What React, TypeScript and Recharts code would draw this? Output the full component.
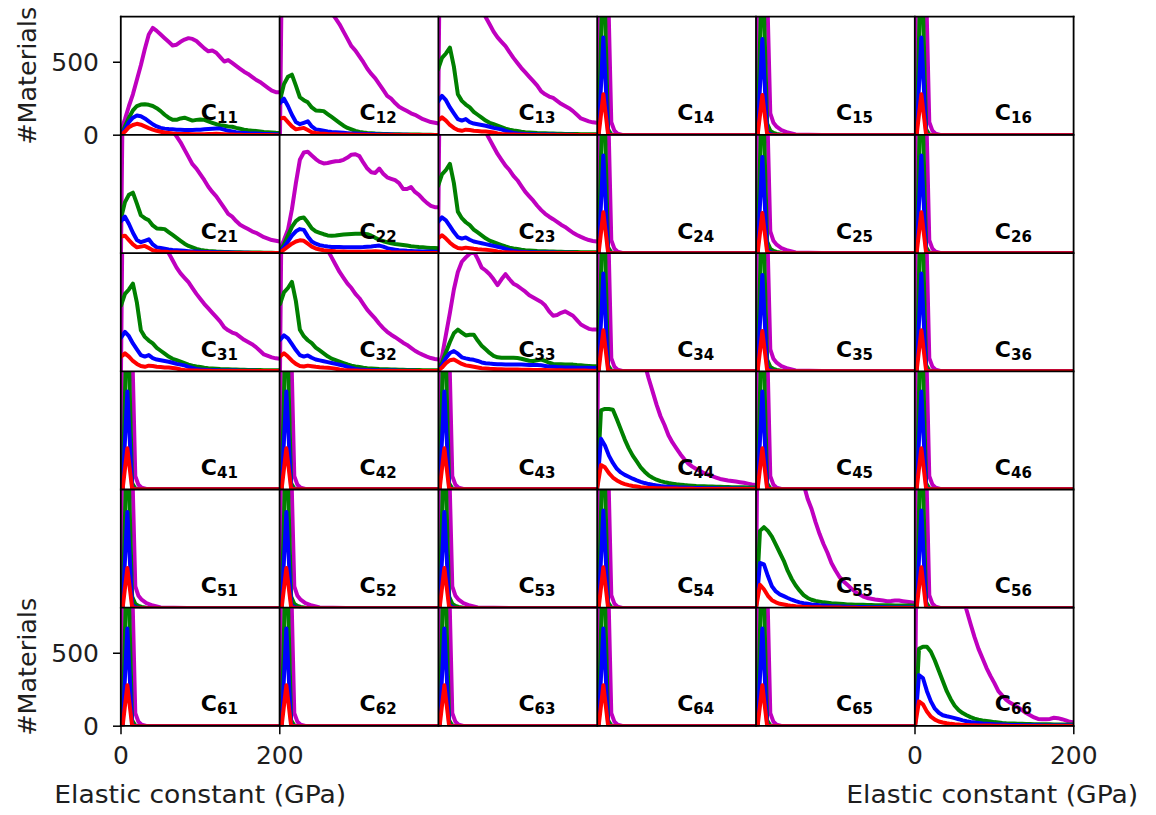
import React from 'react';
import { LineChart, Line, XAxis, YAxis } from 'recharts';

// ---------- data ----------
const X = [0, 5, 10, 15, 20, 25, 30, 35, 40, 45, 50, 55, 60, 65, 70, 75, 80, 85, 90, 95, 100, 105, 110, 115, 120, 125, 130, 135, 140, 145, 150, 155, 160, 165, 170, 175, 180, 185, 190, 195, 200];
const X_SPIKE = [0, 2, 8, 14, 18, 22, 26, 32, 40, 50, 100, 150, 200];
const X_TICKS = [0, 200];
const Y_TICKS = [0, 500];
const Y_MAX = 810;

// C11
const c11Red = [0, 25, 55, 70, 78, 72, 60, 48, 38, 30, 24, 18, 15, 12, 10, 9, 8, 8, 7, 7, 7, 7, 8, 9, 10, 9, 7, 5, 4, 3, 3, 2, 2, 2, 1, 1, 1, 1, 1, 0, 0];
const c11Blue = [0, 40, 90, 120, 135, 130, 115, 95, 75, 60, 50, 45, 42, 40, 38, 37, 36, 36, 36, 37, 38, 40, 42, 44, 46, 45, 38, 30, 25, 20, 17, 15, 13, 12, 11, 10, 9, 8, 7, 6, 5];
const c11Green = [0, 60, 120, 170, 200, 210, 212, 208, 200, 185, 165, 140, 120, 105, 105, 115, 120, 110, 100, 105, 108, 105, 95, 85, 75, 68, 64, 60, 58, 50, 44, 38, 34, 31, 28, 25, 22, 20, 18, 16, 15];
const c11Magenta = [30, 110, 200, 280, 380, 480, 590, 690, 735, 715, 690, 665, 640, 615, 620, 640, 655, 665, 660, 645, 620, 595, 575, 580, 565, 535, 505, 515, 495, 475, 455, 435, 420, 400, 380, 365, 345, 325, 305, 295, 295];

// C12 (= C21)
const c12Red = [115, 120, 90, 60, 40, 45, 50, 35, 20, 15, 12, 10, 8, 7, 6, 5, 5, 4, 4, 3, 3, 3, 3, 2, 2, 2, 2, 2, 2, 2, 1, 1, 1, 1, 1, 1, 1, 1, 1, 1, 1];
const c12Blue = [220, 250, 200, 140, 90, 75, 85, 95, 60, 40, 35, 30, 25, 22, 20, 18, 16, 14, 12, 11, 10, 9, 8, 7, 6, 5, 5, 4, 4, 3, 3, 3, 3, 2, 2, 2, 2, 2, 1, 1, 1];
const c12Green = [240, 350, 400, 415, 340, 260, 240, 225, 190, 170, 168, 165, 145, 125, 105, 85, 65, 50, 40, 30, 22, 18, 15, 13, 11, 10, 9, 8, 7, 6, 6, 5, 5, 4, 4, 4, 3, 3, 3, 2, 2];
const c12Magenta = [0, 2500, 2200, 2000, 1800, 1600, 1450, 1300, 1200, 1100, 1020, 950, 890, 840, 800, 760, 710, 660, 610, 580, 540, 500, 455, 420, 390, 350, 310, 270, 250, 220, 195, 180, 165, 150, 140, 125, 110, 100, 90, 85, 80];

// C13 (= C31)
const c13Red = [100, 122, 100, 70, 50, 35, 30, 38, 35, 30, 28, 26, 25, 22, 18, 12, 9, 7, 5, 4, 3, 3, 3, 2, 2, 2, 2, 2, 2, 1, 1, 1, 1, 1, 1, 1, 1, 1, 1, 1, 1];
const c13Blue = [230, 270, 240, 190, 150, 110, 100, 110, 90, 80, 75, 70, 65, 58, 50, 45, 40, 30, 22, 16, 12, 10, 8, 7, 6, 5, 5, 4, 4, 4, 3, 3, 3, 3, 3, 2, 2, 2, 2, 2, 2];
const c13Green = [450, 530, 560, 600, 470, 280, 235, 210, 190, 160, 140, 120, 100, 85, 75, 65, 55, 45, 38, 32, 28, 24, 21, 19, 17, 15, 14, 13, 12, 11, 10, 10, 9, 9, 8, 8, 7, 7, 6, 6, 6];
const c13Magenta = [0, 2800, 2400, 2100, 1850, 1600, 1400, 1250, 1100, 1000, 920, 860, 810, 760, 710, 670, 640, 610, 570, 530, 495, 460, 430, 400, 370, 340, 300, 280, 265, 255, 235, 215, 200, 185, 165, 140, 115, 105, 95, 88, 85];

// C23 (= C32)
const c23Red = [100, 123, 100, 72, 50, 36, 32, 38, 34, 30, 27, 25, 24, 21, 17, 12, 9, 7, 5, 4, 3, 3, 3, 2, 2, 2, 2, 2, 2, 1, 1, 1, 1, 1, 1, 1, 1, 1, 1, 1, 1];
const c23Blue = [215, 245, 225, 185, 145, 110, 100, 108, 92, 80, 74, 68, 62, 56, 50, 44, 38, 30, 22, 16, 12, 10, 8, 7, 6, 5, 5, 4, 4, 4, 3, 3, 3, 3, 3, 2, 2, 2, 2, 2, 2];
const c23Green = [460, 540, 570, 612, 480, 285, 240, 212, 192, 162, 142, 122, 102, 86, 76, 66, 56, 46, 38, 32, 28, 24, 21, 19, 17, 15, 14, 13, 12, 11, 10, 10, 9, 9, 8, 8, 7, 7, 6, 6, 6];
const c23Magenta = [0, 2800, 2400, 2100, 1850, 1600, 1400, 1250, 1100, 1000, 930, 870, 830, 780, 730, 680, 640, 600, 570, 530, 500, 460, 420, 390, 360, 325, 295, 270, 250, 233, 215, 195, 180, 160, 140, 125, 112, 100, 90, 84, 80];

// C22
const c22Red = [5, 25, 45, 65, 80, 88, 85, 65, 45, 32, 25, 20, 17, 15, 13, 12, 11, 10, 10, 10, 10, 10, 11, 12, 13, 12, 10, 8, 6, 5, 4, 4, 3, 3, 3, 2, 2, 2, 2, 1, 1];
const c22Blue = [10, 40, 80, 120, 150, 165, 160, 115, 80, 65, 55, 50, 46, 43, 42, 42, 41, 40, 40, 40, 41, 42, 44, 46, 50, 52, 45, 35, 28, 24, 20, 18, 16, 15, 14, 13, 12, 12, 11, 10, 10];
const c22Green = [15, 60, 120, 180, 220, 240, 245, 210, 170, 150, 140, 130, 122, 120, 122, 125, 128, 130, 132, 133, 134, 133, 130, 120, 105, 92, 82, 75, 68, 63, 60, 56, 52, 48, 45, 42, 40, 38, 36, 35, 34];
const c22Magenta = [30, 90, 160, 300, 480, 640, 690, 695, 670, 645, 625, 615, 618, 625, 630, 632, 640, 655, 675, 678, 665, 620, 580, 555, 550, 580, 545, 520, 510, 500, 480, 440, 440, 453, 420, 400, 370, 345, 325, 315, 315];

// C33
const c33Red = [2, 25, 55, 75, 80, 65, 50, 40, 35, 30, 25, 20, 18, 16, 15, 14, 13, 12, 12, 11, 11, 10, 10, 10, 9, 9, 8, 8, 7, 7, 6, 6, 5, 5, 5, 4, 4, 4, 3, 3, 3];
const c33Blue = [5, 40, 90, 125, 138, 120, 95, 88, 82, 78, 70, 60, 55, 52, 50, 48, 47, 46, 46, 45, 45, 45, 44, 43, 42, 42, 40, 36, 32, 30, 28, 27, 26, 25, 25, 24, 24, 23, 23, 22, 22];
const c33Green = [15, 60, 130, 200, 260, 285, 265, 245, 250, 250, 210, 175, 150, 125, 105, 95, 92, 92, 92, 92, 90, 85, 78, 72, 70, 75, 80, 70, 58, 50, 48, 47, 46, 45, 45, 42, 40, 38, 36, 34, 33];
const c33Magenta = [30, 100, 250, 400, 560, 680, 750, 780, 805, 820, 770, 710, 690, 665, 630, 590, 630, 665, 630, 600, 585, 565, 545, 520, 505, 490, 475, 450, 410, 380, 385, 400, 410, 395, 380, 350, 320, 305, 290, 285, 285];

// C44
const c44Red = [0, 165, 150, 110, 80, 60, 45, 35, 28, 22, 18, 14, 11, 9, 8, 7, 6, 5, 5, 4, 4, 3, 3, 3, 3, 2, 2, 2, 2, 2, 2, 1, 1, 1, 1, 1, 1, 1, 1, 1, 1];
const c44Blue = [0, 345, 300, 230, 180, 140, 115, 98, 85, 72, 60, 50, 42, 35, 30, 26, 22, 19, 17, 15, 13, 12, 11, 10, 9, 8, 8, 7, 7, 6, 6, 5, 5, 5, 4, 4, 4, 3, 3, 3, 3];
const c44Green = [0, 540, 550, 550, 545, 480, 410, 340, 280, 230, 190, 150, 120, 95, 78, 65, 55, 48, 42, 38, 34, 31, 28, 26, 24, 22, 21, 20, 19, 18, 17, 16, 15, 15, 14, 14, 13, 13, 12, 12, 12];
const c44Magenta = [0, 3500, 3400, 3200, 2900, 2600, 2300, 2000, 1700, 1450, 1200, 1000, 860, 760, 670, 580, 500, 440, 370, 320, 280, 240, 205, 175, 155, 138, 125, 110, 100, 90, 80, 70, 65, 60, 56, 52, 48, 44, 38, 32, 28];

// C55
const c55Red = [0, 160, 130, 85, 55, 40, 30, 25, 20, 16, 13, 11, 9, 8, 7, 6, 6, 5, 5, 4, 4, 4, 3, 3, 3, 3, 2, 2, 2, 2, 2, 2, 2, 1, 1, 1, 1, 1, 1, 1, 1];
const c55Blue = [0, 310, 300, 220, 150, 115, 95, 83, 70, 58, 48, 40, 34, 30, 26, 23, 20, 18, 16, 14, 13, 12, 11, 10, 9, 9, 8, 8, 7, 7, 6, 6, 6, 5, 5, 5, 5, 4, 4, 4, 4];
const c55Green = [0, 530, 555, 530, 490, 435, 380, 325, 255, 200, 155, 120, 90, 70, 58, 50, 45, 40, 37, 34, 32, 30, 28, 26, 25, 24, 24, 23, 22, 22, 21, 21, 20, 20, 20, 19, 19, 18, 18, 18, 17];
const c55Magenta = [0, 3500, 3300, 3000, 2700, 2400, 2100, 1800, 1550, 1350, 1200, 1000, 850, 750, 680, 590, 510, 440, 380, 310, 260, 215, 185, 160, 135, 112, 95, 80, 70, 65, 60, 56, 52, 48, 50, 53, 52, 48, 44, 40, 36];

// C66
const c66Red = [0, 170, 150, 100, 65, 45, 32, 25, 20, 16, 13, 11, 9, 8, 7, 6, 5, 5, 4, 4, 3, 3, 3, 3, 2, 2, 2, 2, 2, 2, 2, 1, 1, 1, 1, 1, 1, 1, 1, 1, 1];
const c66Blue = [0, 350, 330, 240, 170, 120, 92, 75, 68, 62, 55, 48, 40, 34, 29, 25, 22, 19, 17, 15, 13, 12, 11, 10, 9, 8, 8, 7, 7, 6, 6, 6, 5, 5, 5, 5, 4, 4, 4, 4, 4];
const c66Green = [0, 530, 545, 545, 510, 450, 380, 310, 240, 185, 140, 110, 90, 75, 62, 52, 45, 40, 36, 32, 28, 25, 22, 20, 19, 18, 17, 16, 15, 15, 14, 14, 13, 13, 13, 12, 12, 12, 12, 12, 12];
const c66Magenta = [0, 3500, 3300, 3000, 2700, 2400, 2100, 1800, 1550, 1300, 1150, 1000, 900, 795, 700, 610, 530, 465, 400, 345, 295, 240, 210, 180, 160, 145, 128, 110, 90, 75, 60, 50, 48, 48, 50, 58, 55, 48, 40, 30, 25];

// off-diagonal spikes near 0 GPa (short tail), sampled on X_SPIKE
const spikeRed = [0, 0, 280, 3, 0, 0, 0, 0, 0, 0, 0, 0, 0];
const spikeBlue = [0, 0, 670, 10, 0, 0, 0, 0, 0, 0, 0, 0, 0];
const spikeGreen = [0, 0, 1300, 40, 5, 0, 0, 0, 0, 0, 0, 0, 0];
const spikeMagenta = [0, 1500, 6000, 1000, 90, 30, 10, 2, 0, 0, 0, 0, 0];

// off-diagonal spikes with a longer tail, sampled on X_SPIKE
const spikeLRed = [0, 0, 275, 8, 2, 0, 0, 0, 0, 0, 0, 0, 0];
const spikeLBlue = [0, 0, 660, 25, 6, 1, 0, 0, 0, 0, 0, 0, 0];
const spikeLGreen = [0, 0, 1250, 80, 30, 15, 8, 3, 0, 0, 0, 0, 0];
const spikeLMagenta = [0, 1500, 6000, 1000, 150, 85, 58, 35, 18, 5, 0, 0, 0];

const SUBSCRIPTS = [
  ['11', '12', '13', '14', '15', '16'],
  ['21', '22', '23', '24', '25', '26'],
  ['31', '32', '33', '34', '35', '36'],
  ['41', '42', '43', '44', '45', '46'],
  ['51', '52', '53', '54', '55', '56'],
  ['61', '62', '63', '64', '65', '66'],
];

type Series = { x: number[]; r: number[]; b: number[]; g: number[]; m: number[] };
const c11: Series = { x: X, r: c11Red, b: c11Blue, g: c11Green, m: c11Magenta };
const c12: Series = { x: X, r: c12Red, b: c12Blue, g: c12Green, m: c12Magenta };
const c13: Series = { x: X, r: c13Red, b: c13Blue, g: c13Green, m: c13Magenta };
const c22: Series = { x: X, r: c22Red, b: c22Blue, g: c22Green, m: c22Magenta };
const c23: Series = { x: X, r: c23Red, b: c23Blue, g: c23Green, m: c23Magenta };
const c33: Series = { x: X, r: c33Red, b: c33Blue, g: c33Green, m: c33Magenta };
const c44: Series = { x: X, r: c44Red, b: c44Blue, g: c44Green, m: c44Magenta };
const c55: Series = { x: X, r: c55Red, b: c55Blue, g: c55Green, m: c55Magenta };
const c66: Series = { x: X, r: c66Red, b: c66Blue, g: c66Green, m: c66Magenta };
const sp: Series = { x: X_SPIKE, r: spikeRed, b: spikeBlue, g: spikeGreen, m: spikeMagenta };
const spL: Series = { x: X_SPIKE, r: spikeLRed, b: spikeLBlue, g: spikeLGreen, m: spikeLMagenta };

const GRID: Series[][] = [
  [c11, c12, c13, sp, spL, sp],
  [c12, c22, c23, sp, spL, sp],
  [c13, c23, c33, sp, spL, sp],
  [sp, sp, sp, c44, sp, sp],
  [spL, spL, spL, sp, c55, sp],
  [sp, sp, sp, sp, sp, c66],
];

// ---------- layout ----------
const LEFT0 = 120.8;
const CW = 158.8;
const TOP0 = 16.7;
const CH = 118.2;
const PAD = { top: 20, right: 40, bottom: 20, left: 30 };
const FONT = '"DejaVu Sans", sans-serif';
const TEXT = '#1e1e1e';
const LW = 4;

const COLORS = { m: '#bf00bf', g: '#008000', b: '#0000ff', r: '#ff0000' };

function Cell({ row, col }: { row: number; col: number }) {
  const s = GRID[row][col];
  const data = s.x.map((x, i) => ({ x, r: s.r[i], b: s.b[i], g: s.g[i], m: s.m[i] }));
  const showY = col === 0 && (row === 0 || row === 5);
  const showX = row === 5 && (col === 0 || col === 5);
  const yW = showY ? 110 : 0;
  const xH = showX ? 60 : 0;
  const w = CW + PAD.left + PAD.right + yW;
  const h = CH + PAD.top + PAD.bottom + xH;
  const left = LEFT0 + col * CW - PAD.left - yW;
  const top = TOP0 + row * CH - PAD.top;
  const tickStyle = { fill: TEXT, fontSize: 25, fontFamily: FONT };
  return (
    <div style={{ position: 'absolute', left, top, width: w, height: h }}>
      <LineChart width={w} height={h} data={data} margin={PAD}>
        <XAxis
          dataKey="x"
          type="number"
          domain={[0, 200]}
          ticks={X_TICKS}
          allowDataOverflow
          hide={!showX}
          height={xH}
          axisLine={false}
          tickLine={{ stroke: '#000', strokeWidth: 1.5 }}
          tickSize={8}
          tickMargin={12}
          tick={tickStyle}
          interval={0}
        />
        <YAxis
          type="number"
          domain={[0, Y_MAX]}
          ticks={Y_TICKS}
          allowDataOverflow
          hide={!showY}
          width={yW}
          axisLine={false}
          tickLine={{ stroke: '#000', strokeWidth: 1.5 }}
          tickSize={8}
          tickMargin={14}
          tick={tickStyle}
          interval={0}
        />
        {(['m', 'g', 'b', 'r'] as const).map((k) => (
          <Line
            key={k}
            dataKey={k}
            type="linear"
            stroke={COLORS[k]}
            strokeWidth={LW}
            strokeLinejoin="round"
            strokeLinecap="round"
            dot={false}
            activeDot={false}
            isAnimationActive={false}
          />
        ))}
      </LineChart>
    </div>
  );
}

export default function App() {
  const rows = [0, 1, 2, 3, 4, 5];
  const cols = [0, 1, 2, 3, 4, 5];
  const right = LEFT0 + 6 * CW;
  const bottom = TOP0 + 6 * CH;
  return (
    <div style={{ position: 'absolute', left: 0, top: 0, width: 1156, height: 815, background: '#fff', overflow: 'hidden' }}>
      {rows.map((r) => cols.map((c) => <Cell key={`${r}-${c}`} row={r} col={c} />))}
      <svg width={1156} height={815} style={{ position: 'absolute', left: 0, top: 0, pointerEvents: 'none' }}>
        {[0, 1, 2, 3, 4, 5, 6].map((i) => (
          <line key={`v${i}`} x1={LEFT0 + i * CW} x2={LEFT0 + i * CW} y1={TOP0 - 0.9} y2={bottom + 0.9} stroke="#000" strokeWidth={1.8} />
        ))}
        {[0, 1, 2, 3, 4, 5, 6].map((i) => (
          <line key={`h${i}`} x1={LEFT0 - 0.9} x2={right + 0.9} y1={TOP0 + i * CH} y2={TOP0 + i * CH} stroke="#000" strokeWidth={1.8} />
        ))}
        {rows.map((r) =>
          cols.map((c) => (
            <text
              key={`t${r}${c}`}
              x={LEFT0 + c * CW + 80}
              y={TOP0 + (r + 1) * CH - 14.5}
              fontFamily={FONT}
              fontWeight="bold"
              fontSize={22}
              fill="#000"
            >
              C<tspan fontSize={15} dy={3}>{SUBSCRIPTS[r][c]}</tspan>
            </text>
          ))
        )}
        <text x={36} y={TOP0 + 0.5 * CH} transform={`rotate(-90 36 ${TOP0 + 0.5 * CH})`} textAnchor="middle" fontFamily={FONT} fontSize={25} fill={TEXT} textLength={138} lengthAdjust="spacingAndGlyphs">#Materials</text>
        <text x={36} y={TOP0 + 5.5 * CH} transform={`rotate(-90 36 ${TOP0 + 5.5 * CH})`} textAnchor="middle" fontFamily={FONT} fontSize={25} fill={TEXT} textLength={138} lengthAdjust="spacingAndGlyphs">#Materials</text>
        <text x={LEFT0 + 0.5 * CW} y={802.5} textAnchor="middle" fontFamily={FONT} fontSize={25} fill={TEXT} textLength={292} lengthAdjust="spacingAndGlyphs">Elastic constant (GPa)</text>
        <text x={LEFT0 + 5.5 * CW - 2} y={802.5} textAnchor="middle" fontFamily={FONT} fontSize={25} fill={TEXT} textLength={292} lengthAdjust="spacingAndGlyphs">Elastic constant (GPa)</text>
      </svg>
    </div>
  );
}
